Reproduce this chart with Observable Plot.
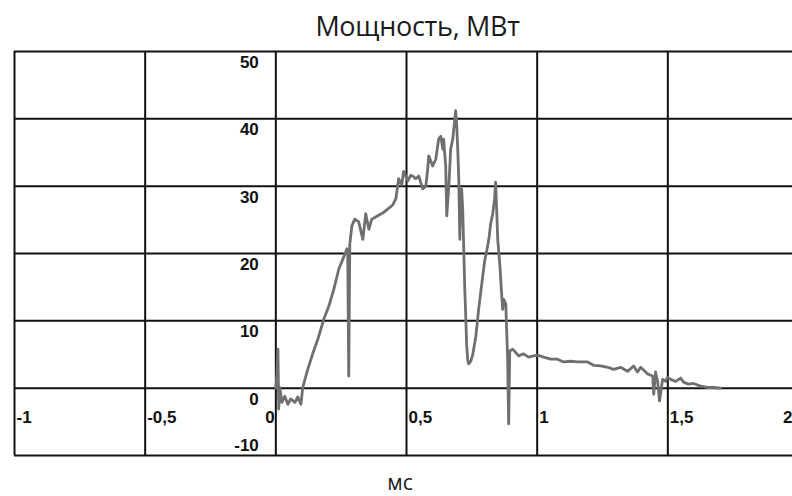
<!DOCTYPE html>
<html>
<head>
<meta charset="utf-8">
<script src="https://cdn.jsdelivr.net/npm/d3@7"></script>
<script src="https://cdn.jsdelivr.net/npm/@observablehq/plot@0.6"></script>
<style>
  html, body { margin: 0; padding: 0; background: #fff; }
  #wrap { position: relative; width: 792px; height: 496px; overflow: hidden; }
  #title { position: absolute; left: 0; top: 0; width: 835px; height: 40px; text-align: center;
           font-family: "Open Sans", "Noto Sans", sans-serif; font-size: 27px; line-height: 52px; color: #1a1a1a; letter-spacing: -0.3px; }
  #chart { position: absolute; left: 0; top: 40px; }
  #xlabel { position: absolute; left: 0; top: 472px; width: 800px; height: 22px; text-align: center;
            font-family: "Open Sans", "Noto Sans", sans-serif; font-size: 21px; line-height: 20px; color: #1a1a1a; }
</style>
</head>
<body>
<div id="wrap">
  <div id="title">Мощность, МВт</div>
  <div id="chart"></div>
  <div id="xlabel">мс</div>
</div>
<script>
// Time, ms
const t = [0.000,0.004,0.008,0.011,0.015,0.023,0.034,0.046,0.057,0.073,0.084,0.096,0.103,0.122,0.141,0.161,0.184,0.203,0.222,0.241,0.260,0.272,0.275,0.279,0.283,0.291,0.302,0.317,0.333,0.344,0.356,0.367,0.390,0.409,0.428,0.447,0.459,0.470,0.482,0.489,0.505,0.516,0.524,0.535,0.547,0.562,0.574,0.581,0.585,0.600,0.612,0.623,0.631,0.639,0.642,0.650,0.654,0.662,0.669,0.677,0.688,0.692,0.696,0.700,0.704,0.707,0.711,0.715,0.719,0.723,0.727,0.730,0.734,0.738,0.746,0.753,0.765,0.776,0.788,0.799,0.807,0.815,0.822,0.830,0.837,0.841,0.845,0.849,0.857,0.864,0.868,0.872,0.880,0.883,0.887,0.891,0.895,0.906,0.918,0.929,0.948,0.967,0.987,1.002,1.025,1.052,1.078,1.101,1.128,1.155,1.193,1.216,1.243,1.270,1.293,1.319,1.346,1.369,1.384,1.396,1.423,1.442,1.446,1.453,1.461,1.468,1.480,1.491,1.499,1.511,1.530,1.549,1.560,1.579,1.598,1.625,1.652,1.675,1.702];
// Power, MW
const power = [0.0,2.1,5.8,-3.1,0.1,-2.1,-1.2,-2.4,-1.6,-2.1,-1.3,-2.4,0.1,2.8,5.1,7.3,10.3,12.2,14.7,17.7,19.5,20.7,20.2,1.8,21.4,24.1,25.1,24.7,22.1,25.9,23.6,25.1,25.6,26.0,26.6,27.2,28.1,31.1,30.2,32.2,30.8,31.6,31.5,31.1,31.5,29.6,30.0,32.5,34.5,33.0,34.0,37.0,37.4,35.5,37.0,33.0,25.6,30.0,35.5,37.0,41.2,39.2,35.5,31.1,22.1,28.1,29.6,26.6,20.7,14.7,10.3,6.5,4.3,3.6,4.0,4.9,7.6,11.7,15.5,18.9,20.4,22.1,24.4,25.9,28.1,30.6,26.6,22.1,18.4,14.0,11.7,13.2,12.5,8.8,4.3,-5.3,5.5,5.8,5.3,4.8,5.1,4.6,4.8,4.9,4.6,4.3,4.3,3.9,4.0,3.9,3.9,3.4,3.3,3.1,2.8,3.1,2.5,3.3,2.4,3.1,2.1,1.8,-0.9,2.4,1.0,-1.9,1.3,1.0,1.6,1.3,1.0,1.5,0.9,0.6,0.7,0.3,0.1,0.1,0.0];

const xTicks = [-1, -0.5, 0, 0.5, 1, 1.5, 2];
const xTickLabels = ["-1", "-0,5", "0", "0,5", "1", "1,5", "2"];
const yTicks = [50, 40, 30, 20, 10, 0, -10];

const data = t.map((x, i) => ({x, y: power[i]}));
const xLab = xTicks.map((v, i) => ({v, label: xTickLabels[i]}));
const startAnchored = xLab.filter(d => d.v !== 0 && d.v !== 2);
const zeroLabel = xLab.filter(d => d.v === 0);
const lastLabel = xLab.filter(d => d.v === 2);

const font = {fontFamily: "Liberation Sans, Arial, sans-serif", fontWeight: "bold", fontSize: 17, fill: "#111"};

const chart = Plot.plot({
  width: 792,
  height: 425,
  marginLeft: 14,
  marginRight: 0,
  marginTop: 11,
  marginBottom: 10,
  x: {domain: [-1, 1.977], axis: null},
  y: {domain: [-10, 50], axis: null},
  marks: [
    Plot.ruleX(xTicks.filter(v => v < 1.977), {stroke: "#111", strokeWidth: 2}),
    Plot.ruleY(yTicks, {stroke: "#111", strokeWidth: 2}),
    Plot.line(data, {x: "x", y: "y", stroke: "#6f6f6f", strokeWidth: 2.8, strokeLinejoin: "round"}),
    Plot.text(yTicks.filter(v => v !== -10), {x: 0, y: d => d, text: d => String(d), textAnchor: "end", dx: -17, dy: 11, ...font}),
    Plot.text(yTicks.filter(v => v === -10), {x: 0, y: d => d, text: d => String(d), textAnchor: "end", dx: -17, dy: -10, ...font}),
    Plot.text(startAnchored, {x: "v", y: 0, text: "label", textAnchor: "start", dx: 2, dy: 29, ...font}),
    Plot.text(zeroLabel, {x: "v", y: 0, text: "label", textAnchor: "end", dx: -1, dy: 29, ...font}),
    Plot.text(lastLabel, {x: "v", y: 0, text: "label", textAnchor: "end", dx: -6, dy: 29, ...font})
  ]
});
document.getElementById("chart").appendChild(chart);
</script>
</body>
</html>
